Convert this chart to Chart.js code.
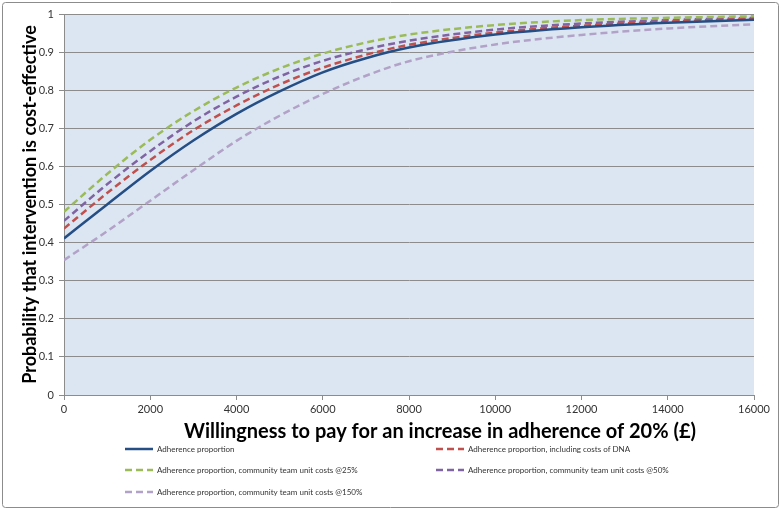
<!DOCTYPE html>
<html>
<head>
<script src="https://cdn.jsdelivr.net/npm/chart.js"></script>
<style>
  html, body { margin: 0; padding: 0; background: #fff; }
  #wrap { width: 781px; height: 511px; }
</style>
</head>
<body>
<div id="wrap"><canvas id="myChart" width="781" height="511"></canvas></div>
<script>
// willingness to pay (£)
var wtp = [0, 1000, 2000, 3000, 4000, 5000, 6000, 7000, 8000, 10000, 12000, 14000, 16000];

// probability cost-effective
var adherence      = [0.411, 0.500, 0.588, 0.668, 0.738, 0.797, 0.847, 0.884, 0.912, 0.946, 0.965, 0.977, 0.985];
var adherenceDNA   = [0.437, 0.530, 0.617, 0.695, 0.760, 0.815, 0.859, 0.893, 0.919, 0.951, 0.969, 0.980, 0.987];
var community25    = [0.481, 0.580, 0.670, 0.745, 0.807, 0.857, 0.896, 0.925, 0.946, 0.971, 0.984, 0.990, 0.994];
var community50    = [0.457, 0.553, 0.640, 0.718, 0.783, 0.836, 0.877, 0.907, 0.930, 0.959, 0.975, 0.984, 0.990];
var community150   = [0.354, 0.430, 0.510, 0.590, 0.667, 0.733, 0.790, 0.838, 0.876, 0.920, 0.945, 0.962, 0.973];

var yTicks = [0, 0.1, 0.2, 0.3, 0.4, 0.5, 0.6, 0.7, 0.8, 0.9, 1];
var xTitle = 'Willingness to pay for an increase in adherence of 20% (£)';

function pts(arr) {
    return arr.map(function(v, i) { return {x: wtp[i], y: v}; });
}

var FONT = 'Lato';

// background of plot area, frame, x title and the two-column legend
var decor = {
    id: 'decor',
    beforeDraw: function(chart) {
        var c = chart.ctx, a = chart.chartArea;
        c.save();
        c.fillStyle = '#fff';
        c.fillRect(0, 0, chart.width, chart.height);
        c.fillStyle = '#dce6f2';
        c.fillRect(a.left, a.top, a.right - a.left, a.bottom - a.top);
        c.restore();
    },
    afterDraw: function(chart) {
        var c = chart.ctx;
        c.save();
        // outer frame
        c.strokeStyle = '#8c8c8c';
        c.lineWidth = 1;
        c.beginPath();
        c.roundRect(2.5, 2.5, 776, 505, 3);
        c.stroke();

        // x axis title (sits a little right of the plot centre in the original)
        c.fillStyle = '#000';
        c.font = 'bold 20px ' + FONT;
        c.textAlign = 'center';
        c.textBaseline = 'middle';
        c.fillText(xTitle, 440, 432);

        // legend: two columns
        var slots = [
            [125, 449], [436, 449],
            [125, 470], [436, 470],
            [125, 492]
        ];
        c.font = '8px ' + FONT;
        c.textAlign = 'left';
        chart.data.datasets.forEach(function(ds, i) {
            var s = slots[i];
            c.strokeStyle = ds.borderColor;
            c.lineWidth = 2.5;
            c.setLineDash(ds.borderDash || []);
            c.beginPath();
            c.moveTo(s[0], s[1]);
            c.lineTo(s[0] + 28, s[1]);
            c.stroke();
            c.setLineDash([]);
            c.fillStyle = '#333';
            c.fillText(ds.label, s[0] + 32, s[1]);
        });
        c.restore();
    }
};

var ctx = document.getElementById('myChart').getContext('2d');
var chart = new Chart(ctx, {
    type: 'line',
    data: {
        datasets: [{
            label: 'Adherence proportion',
            borderColor: '#254e85',
            data: pts(adherence)
        },
        {
            label: 'Adherence proportion, including costs of DNA',
            borderColor: '#c0504d',
            borderDash: [7, 4],
            data: pts(adherenceDNA)
        },
        {
            label: 'Adherence proportion, community team unit costs @25%',
            borderColor: '#9bbb59',
            borderDash: [7, 4],
            data: pts(community25)
        },
        {
            label: 'Adherence proportion, community team unit costs @50%',
            borderColor: '#8064a2',
            borderDash: [7, 4],
            data: pts(community50)
        },
        {
            label: 'Adherence proportion, community team unit costs @150%',
            borderColor: '#b3a2c7',
            borderDash: [7, 4],
            data: pts(community150)
        }]
    },
    options: {
        responsive: false,
        animation: false,
        layout: { padding: { left: 0, right: 27, top: 14, bottom: 66 } },
        elements: {
            point: { radius: 0 },
            line: { borderWidth: 2.5, cubicInterpolationMode: 'monotone', fill: false }
        },
        plugins: {
            legend: { display: false },
            tooltip: { enabled: false }
        },
        scales: {
            x: {
                type: 'linear',
                min: 0,
                max: 16000,
                afterFit: function(s) { s.height = 50; },
                ticks: {
                    stepSize: 2000,
                    padding: 3,
                    maxRotation: 0,
                    color: '#333',
                    font: { family: FONT, size: 11 },
                    callback: function(v) { return String(v); }
                },
                grid: { drawOnChartArea: false, tickLength: 5, color: '#8c8c8c' },
                border: { color: '#8c8c8c' }
            },
            y: {
                min: 0,
                max: 1,
                afterFit: function(s) { s.width = 64; },
                afterBuildTicks: function(s) {
                    s.ticks = yTicks.map(function(v) { return {value: v}; });
                },
                ticks: {
                    padding: 5,
                    color: '#333',
                    font: { family: FONT, size: 11 },
                    callback: function(v) { return String(Math.round(v * 10) / 10); }
                },
                grid: { color: '#8c8c8c', tickLength: 5 },
                border: { color: '#8c8c8c' },
                title: {
                    display: true,
                    text: 'Probability that intervention is cost-effective',
                    color: '#000',
                    font: { family: FONT, size: 18, weight: 'bold' },
                    padding: { top: 19, bottom: 0 }
                }
            }
        }
    },
    plugins: [decor]
});
</script>
</body>
</html>
